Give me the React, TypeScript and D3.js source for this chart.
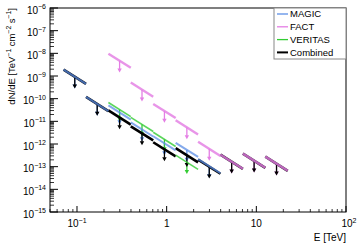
import * as d3 from "d3";
import React from "react";

// energy bins [TeV], quarter-decade wide
const binEdges = [0.0708, 0.126, 0.224, 0.398, 0.708, 1.26, 2.24, 3.98, 7.08, 12.6, 22.4];
const spectralIndex = 2.5;

// upper limits at the (log) bin centre [TeV^-1 cm^-2 s^-1]
const magicBins = [0, 1, 2, 3, 4, 5, 6];
const magicUL = [9.3e-10, 5.8e-11, 2.46e-11, 4.4e-12, 1.07e-12, 5.5e-13, 1.05e-13];

const factBins = [2, 3, 4, 5, 6, 7, 8, 9];
const factUL = [4.7e-9, 2.5e-10, 2.86e-11, 5.4e-12, 6.1e-13, 1.65e-13, 1.83e-13, 1.35e-13];

const veritasBins = [2, 3, 4, 5];
const veritasUL = [3.3e-11, 7.3e-12, 1.6e-12, 1.57e-13];

const combinedBins = [0, 1, 2, 3, 4, 5, 6, 7, 8, 9];
const combinedUL = [9.3e-10, 5.8e-11, 1.48e-11, 2.94e-12, 5.8e-13, 3.2e-13, 1.0e-13, 1.65e-13, 1.83e-13, 1.35e-13];

const legendLabels = ["MAGIC", "FACT", "VERITAS", "Combined"];
const yDecades = [-15, -14, -13, -12, -11, -10, -9, -8, -7, -6];
const xDecades = [-1, 0, 1, 2];

const W = 357;
const H = 247;
const left = 50, right = 346, top = 8, bottom = 212;
const font = "Liberation Sans, Arial, sans-serif";

const x = d3.scaleLog().domain([0.05, 100]).range([left, right]);
const y = d3.scaleLog().domain([1e-15, 1e-6]).range([bottom, top]);

interface Series { bins: number[]; ul: number[]; color: string; width: number; opacity: number }

function segment(k: number, ul: number) {
  const lo = binEdges[k], hi = binEdges[k + 1];
  const ec = Math.sqrt(lo * hi);
  const f = (e: number) => ul * Math.pow(e / ec, -spectralIndex);
  return d3.line()([[x(lo), y(f(lo))], [x(hi), y(f(hi))]]) as string;
}

function Arrow({ k, ul, color }: { k: number; ul: number; color: string }) {
  const ec = Math.sqrt(binEdges[k] * binEdges[k + 1]);
  const cx = x(ec);
  const y0 = y(ul);
  const y1 = y(ul * Math.pow(10, -0.5));
  return (
    <g>
      <line x1={cx} x2={cx} y1={y0} y2={y1 - 3} stroke={color} strokeWidth={1.3} />
      <path d={`M${cx - 2.2},${y1 - 3.5}L${cx + 2.2},${y1 - 3.5}L${cx},${y1 + 0.5}Z`} fill={color} />
    </g>
  );
}

function Sup({ base, exp, size }: { base: string; exp: string; size: number }) {
  return (
    <>
      <tspan fontSize={size}>{base}</tspan>
      <tspan fontSize={size * 0.7} dy={-size * 0.45}>{exp}</tspan>
    </>
  );
}

export default function App() {
  const magic: Series = { bins: magicBins, ul: magicUL, color: "#5b8ee6", width: 2, opacity: 0.75 };
  const fact: Series = { bins: factBins, ul: factUL, color: "#e47ee4", width: 2.4, opacity: 0.82 };
  const veritas: Series = { bins: veritasBins, ul: veritasUL, color: "#33cc33", width: 1.6, opacity: 0.8 };
  const instruments = [magic, fact, veritas];
  const legendColors = [magic.color, fact.color, veritas.color, "#000"];

  // minor ticks
  const yMinor: number[] = [];
  yDecades.slice(0, -1).forEach((d) => {
    for (let m = 2; m <= 9; m++) yMinor.push(m * Math.pow(10, d));
  });
  const xMinor: number[] = [];
  [-2, -1, 0, 1].forEach((d) => {
    for (let m = 2; m <= 9; m++) {
      const v = m * Math.pow(10, d);
      if (v >= 0.05 && v <= 100) xMinor.push(v);
    }
  });

  return (
    <svg width={W} height={H} style={{ position: "absolute", left: 0, top: 0, background: "#fff" }} fontFamily={font}>
      <rect width={W} height={H} fill="#fff" />

      {/* instrument arrows underneath */}
      {instruments.map((s, i) => (
        <g key={"ia" + i}>
          {s.bins.map((k, j) => <Arrow key={j} k={k} ul={s.ul[j]} color={s.color} />)}
        </g>
      ))}

      {/* combined */}
      {combinedBins.map((k, j) => (
        <g key={"c" + j}>
          <path d={segment(k, combinedUL[j])} stroke="#000" strokeWidth={2.6} fill="none" />
          <Arrow k={k} ul={combinedUL[j]} color="#000" />
        </g>
      ))}

      {/* instrument lines on top, semi-transparent */}
      {instruments.map((s, i) => (
        <g key={"il" + i} opacity={s.opacity}>
          {s.bins.map((k, j) => (
            <path key={j} d={segment(k, s.ul[j])} stroke={s.color} strokeWidth={s.width} fill="none" />
          ))}
        </g>
      ))}

      {/* frame */}
      <rect x={left} y={top} width={right - left} height={bottom - top} fill="none" stroke="#000" strokeWidth={1} />

      {/* y axis ticks */}
      {yDecades.map((d) => (
        <line key={"ym" + d} x1={left} x2={left + 8} y1={y(Math.pow(10, d))} y2={y(Math.pow(10, d))} stroke="#000" />
      ))}
      {yMinor.map((v, i) => (
        <line key={"yn" + i} x1={left} x2={left + 4} y1={y(v)} y2={y(v)} stroke="#000" strokeWidth={0.8} />
      ))}
      {yDecades.map((d) => (
        <text key={"yl" + d} x={46} y={y(Math.pow(10, d)) + 5.5} fontSize={10} textAnchor="end" fill="#000">
          <Sup base="10" exp={`\u2212${-d}`} size={10} />
        </text>
      ))}

      {/* x axis ticks */}
      {xDecades.map((d) => (
        <line key={"xm" + d} x1={x(Math.pow(10, d))} x2={x(Math.pow(10, d))} y1={bottom} y2={bottom - 6} stroke="#000" />
      ))}
      {xMinor.map((v, i) => (
        <line key={"xn" + i} x1={x(v)} x2={x(v)} y1={bottom} y2={bottom - 3} stroke="#000" strokeWidth={0.8} />
      ))}
      <text x={x(0.1)} y={227} fontSize={10} textAnchor="middle"><Sup base="10" exp={"\u22121"} size={10} /></text>
      <text x={x(1)} y={227} fontSize={10} textAnchor="middle">1</text>
      <text x={x(10)} y={227} fontSize={10} textAnchor="middle">10</text>
      <text x={x(100) + 3} y={227} fontSize={10} textAnchor="middle"><Sup base="10" exp="2" size={10} /></text>

      {/* axis titles */}
      <text x={right} y={241} fontSize={10} textAnchor="end">E [TeV]</text>
      <text transform={`translate(15,${top}) rotate(-90)`} fontSize={9.5} textAnchor="end">
        <tspan fontSize={9.5}>dN/dE [TeV</tspan>
        <tspan fontSize={6.8} dy={-4.3}>{"\u22121"}</tspan>
        <tspan fontSize={9.5} dy={4.3}> cm</tspan>
        <tspan fontSize={6.8} dy={-4.3}>{"\u22122"}</tspan>
        <tspan fontSize={9.5} dy={4.3}> s</tspan>
        <tspan fontSize={6.8} dy={-4.3}>{"\u22121"}</tspan>
        <tspan fontSize={9.5} dy={4.3}>]</tspan>
      </text>

      {/* legend */}
      <g>
        <rect x={274} y={top} width={right - 274} height={51} fill="#fff" stroke="#888" strokeWidth={1} />
        {legendLabels.map((lab, i) => (
          <g key={lab}>
            <line x1={277} x2={288} y1={14 + i * 12.8} y2={14 + i * 12.8} stroke={legendColors[i]} strokeWidth={i === 3 ? 2 : 1.3} />
            <text x={290} y={17.3 + i * 12.8} fontSize={9.5} fill="#000">{lab}</text>
          </g>
        ))}
      </g>
    </svg>
  );
}
